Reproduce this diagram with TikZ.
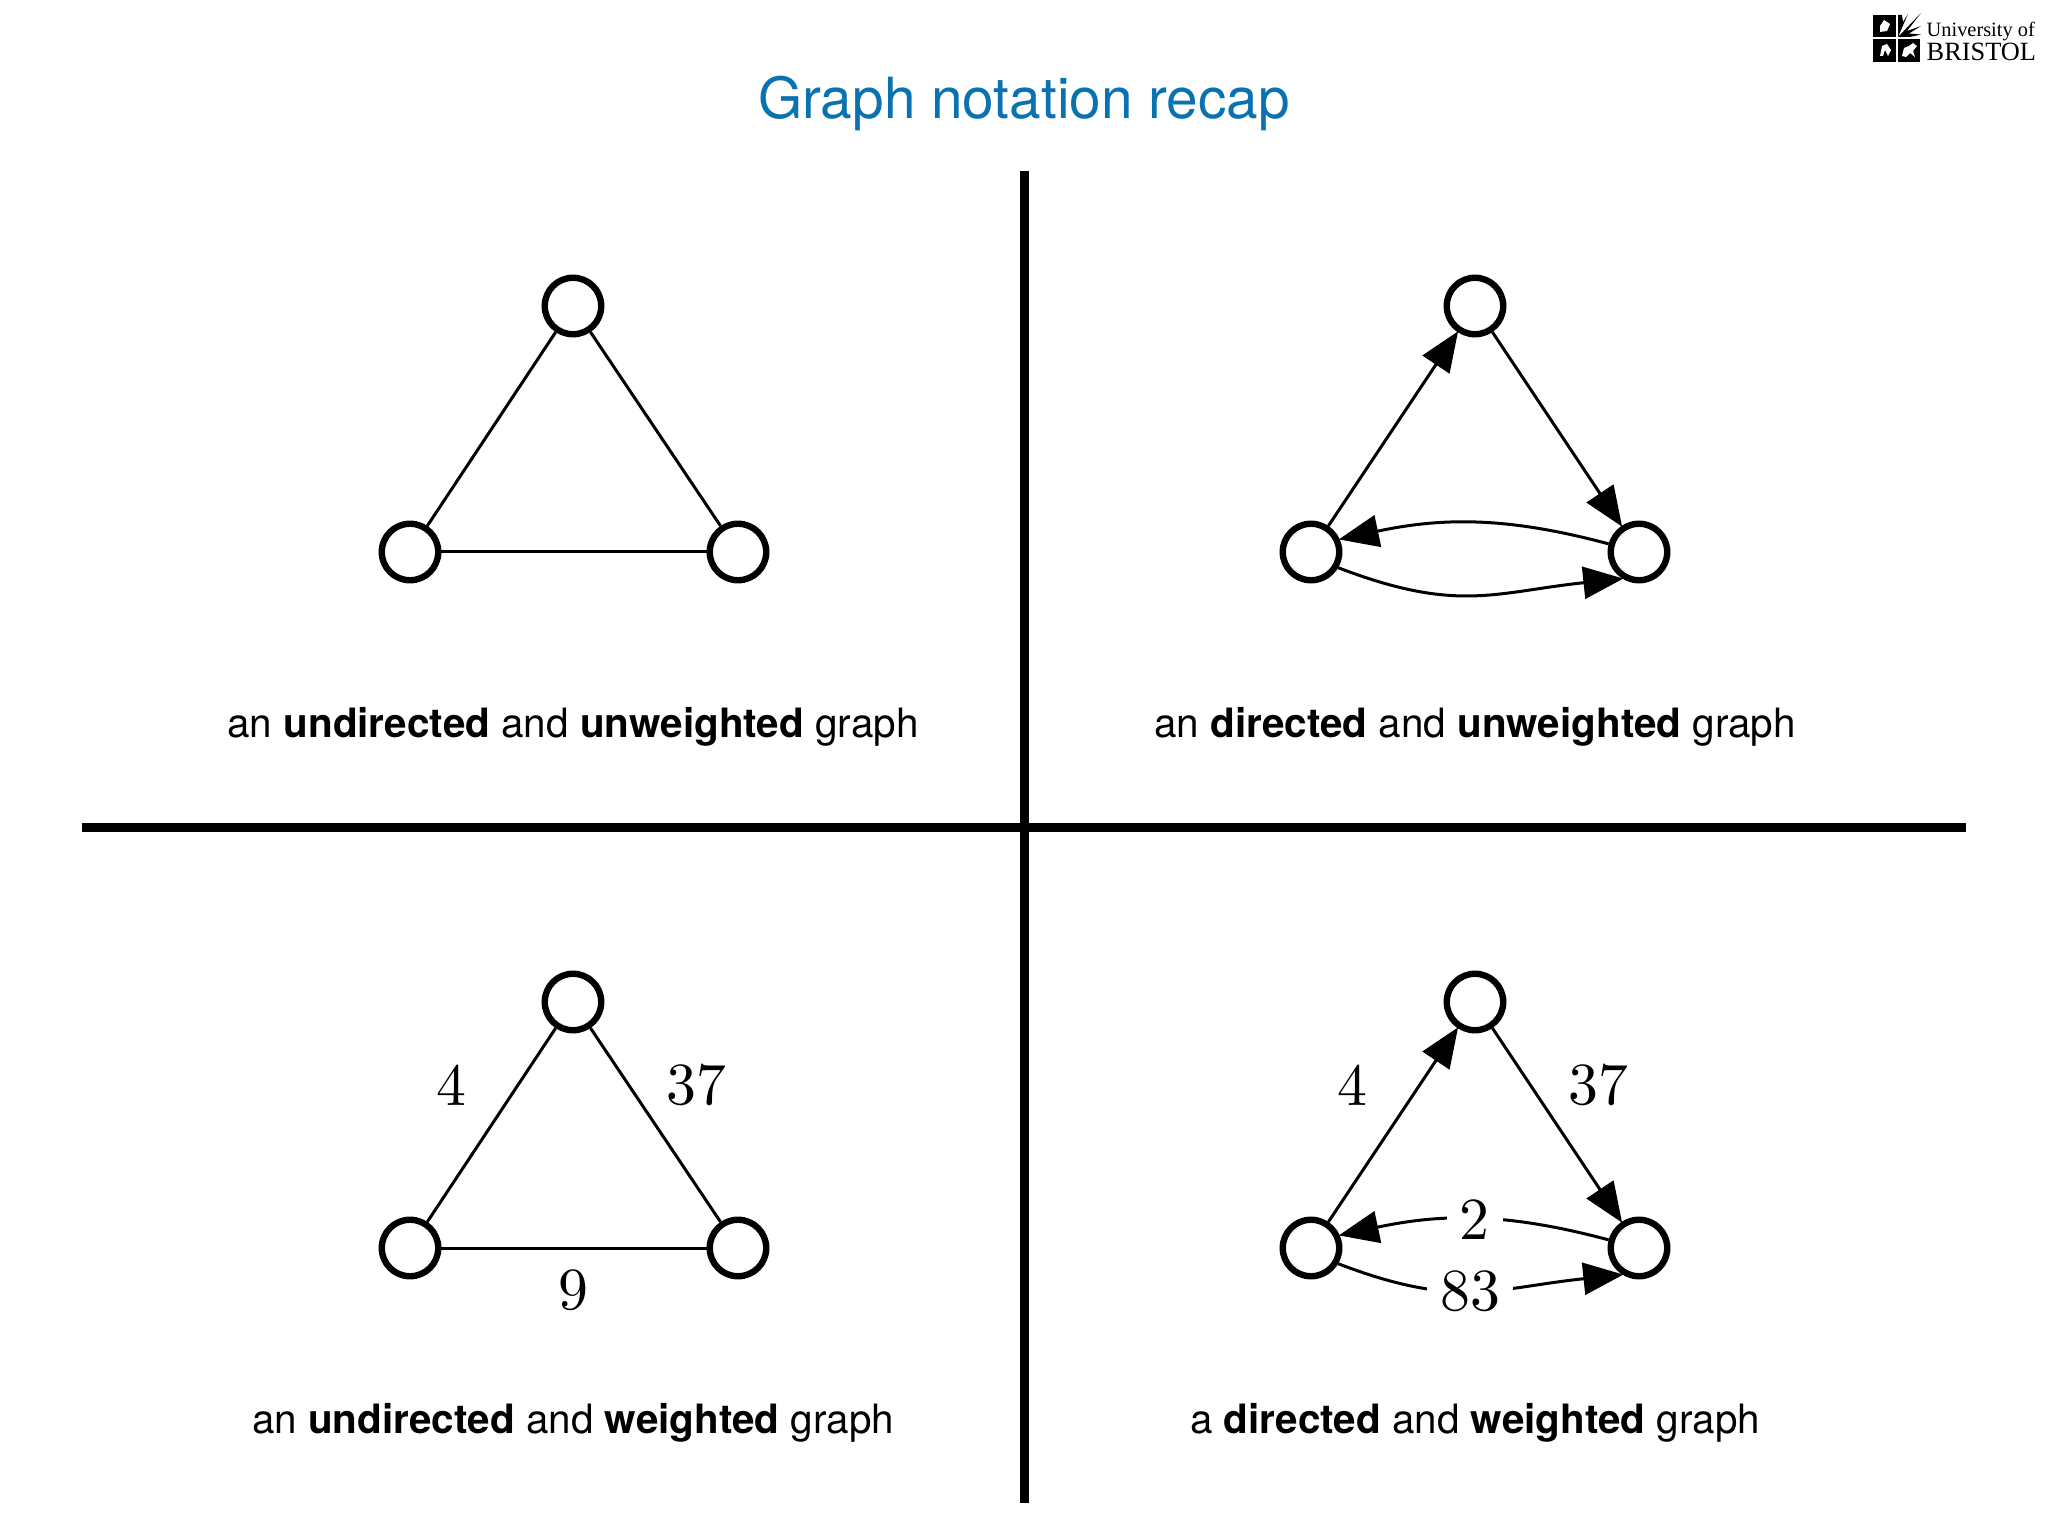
\documentclass[tikz,border=0pt]{standalone}
\usepackage{fontspec}
\setsansfont{TeX Gyre Heros}
\newfontfamily\logofont{Liberation Serif}
\newfontfamily\weightfont{lmroman10-regular.otf}
\usepackage{tikz}
\usetikzlibrary{arrows.meta}

\definecolor{titleblue}{HTML}{0A72B0}

\tikzset{
	vertex/.style={shape=circle,draw=black,fill=white,line width=.064cm,minimum size=.565cm,inner sep=0pt},
	caption/.style={font=\sffamily\fontsize{11.5}{14}\selectfont,inner sep=0pt,anchor=base},
	weight/.style={font=\weightfont\fontsize{17}{21}\selectfont,inner sep=0pt},
	cutweight/.style={weight,fill=white,inner xsep=.13cm,inner ysep=.01cm},
	divider/.style={line width=.09cm},
	link/.style={line width=.03cm},
	arc/.style={link,-{Triangle[length=.40cm,width=.32cm]},shorten >=-.01cm}
}

\begin{document}
\begin{tikzpicture}
	\useasboundingbox (0,0) rectangle (20.48,-15.36);

	% title and logo
	\node[font=\sffamily\fontsize{16.15}{19}\selectfont,text=titleblue,inner sep=0pt,anchor=base] (title) at (10.24,-1.185) {Graph notation recap};
	\fill (18.73,-.15) rectangle (18.96,-.37);
	\fill (18.98,-.39) rectangle (19.20,-.62);
	\fill (18.73,-.39) rectangle (18.96,-.62);
	\fill (18.98,-.37) -- (19.21,-.13) -- (19.07,-.31) -- (19.21,-.26) -- (19.09,-.335) -- (19.21,-.345) -- (19.10,-.37) -- cycle;
	\fill (18.98,-.37) -- (18.98,-.15) -- (19.02,-.15) -- (19.03,-.22) -- (19.08,-.14) -- cycle;
	\fill[white] (18.80,-.26) -- (18.84,-.20) -- (18.90,-.24) -- (18.87,-.31) -- (18.80,-.32) -- cycle;
	\fill[white] (18.80,-.56) -- (18.82,-.46) -- (18.87,-.44) -- (18.91,-.50) -- (18.88,-.56) -- (18.85,-.50) -- (18.83,-.56) -- cycle;
	\fill[white] (19.02,-.56) -- (19.04,-.48) -- (19.09,-.46) -- (19.13,-.43) -- (19.17,-.46) -- (19.13,-.51) -- (19.15,-.57) -- (19.10,-.53) -- (19.06,-.57) -- cycle;
	\node[font=\logofont\fontsize{5.8}{7}\selectfont,inner sep=0pt,anchor=base west] (uni) at (19.26,-.37) {University of};
	\node[font=\logofont\fontsize{7.5}{9}\selectfont,inner sep=0pt,anchor=base west] (bristol) at (19.26,-.61) {BRISTOL};

	% dividers
	\coordinate (vtop) at (10.24,-1.71);
	\coordinate (vbot) at (10.24,-15.03);
	\coordinate (hleft) at (.82,-8.27);
	\coordinate (hright) at (19.66,-8.27);
	\draw[divider] (vtop) -- (vbot);
	\draw[divider] (hleft) -- (hright);

	% undirected, unweighted
	\node[vertex] (a1) at (5.73, -3.06) {};
	\node[vertex] (b1) at (4.10, -5.52) {};
	\node[vertex] (c1) at (7.38, -5.52) {};
	\path[-, link] (a1) edge (b1);
	\path[-, link] (a1) edge (c1);
	\path[-, link] (b1) edge (c1);
	\node[caption] (cap1) at (5.73, -7.375) {an \textbf{undirected} and \textbf{unweighted} graph};

	% directed, unweighted
	\node[vertex] (a2) at (14.75, -3.06) {};
	\node[vertex] (b2) at (13.11, -5.52) {};
	\node[vertex] (c2) at (16.39, -5.52) {};
	\draw[arc] (b2) -- (a2);
	\draw[arc] (a2) -- (c2);
	\draw[arc] (c2.165) to[out=165,in=12] (b2.24);
	\draw[arc] (b2.-30) to[out=-21,in=-174,looseness=1.15] (c2.-122);
	\node[caption] (cap2) at (14.75, -7.375) {an \textbf{directed} and \textbf{unweighted} graph};

	% undirected, weighted
	\node[vertex] (a3) at (5.73, -10.02) {};
	\node[vertex] (b3) at (4.10, -12.48) {};
	\node[vertex] (c3) at (7.38, -12.48) {};
	\path[-, link] (a3) edge (b3);
	\path[-, link] (a3) edge (c3);
	\path[-, link] (b3) edge (c3);
	\node[weight] (w31) at (4.51, -10.85) {4};
	\node[weight] (w32) at (6.96, -10.85) {37};
	\node[weight] (w33) at (5.73, -12.90) {9};
	\node[caption] (cap3) at (5.73, -14.335) {an \textbf{undirected} and \textbf{weighted} graph};

	% directed, weighted
	\node[vertex] (a4) at (14.75, -10.02) {};
	\node[vertex] (b4) at (13.11, -12.48) {};
	\node[vertex] (c4) at (16.39, -12.48) {};
	\draw[arc] (b4) -- (a4);
	\draw[arc] (a4) -- (c4);
	\draw[arc] (c4.165) to[out=165,in=12] node[cutweight] (w43) {2} (b4.24);
	\draw[arc] (b4.-30) to[out=-21,in=-174,looseness=1.15] node[cutweight,pos=.47] (w44) {83} (c4.-122);
	\node[weight] (w41) at (13.52, -10.85) {4};
	\node[weight] (w42) at (15.98, -10.85) {37};
	\node[caption] (cap4) at (14.75, -14.335) {a \textbf{directed} and \textbf{weighted} graph};

\end{tikzpicture}
\end{document}
